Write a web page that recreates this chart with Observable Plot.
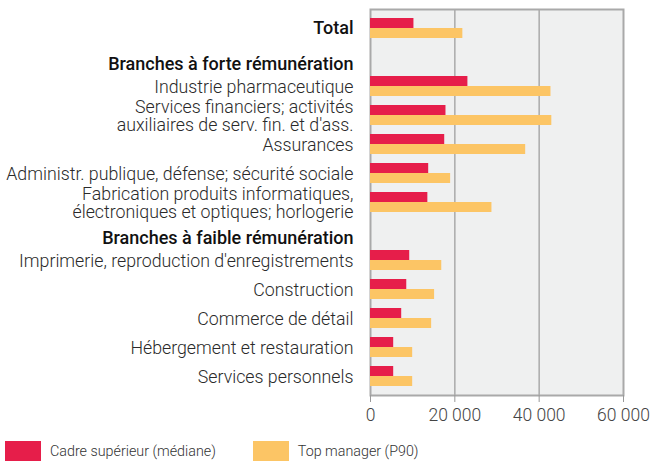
<!DOCTYPE html>
<html>
<head>
<meta charset="utf-8">
<script src="https://cdn.jsdelivr.net/npm/d3@7"></script>
<script src="https://cdn.jsdelivr.net/npm/@observablehq/plot@0.6"></script>
<style>
  body { margin: 0; background: #fff; font-family: Roboto, "Noto Sans", sans-serif; }
  #chart svg { display: block; }
  .legend { display: flex; align-items: center; height: 20px; margin-top: 9px; font-size: 14.3px; color: #333; font-weight: 300; }
  .legend .sw { width: 36px; height: 20px; margin-right: 9px; }
  .legend .item { display: flex; align-items: center; }
</style>
</head>
<body>
<div id="chart"></div>
<script>
const categories = [
  "Total",
  "Branches à forte rémunération",
  "Industrie pharmaceutique",
  "Services financiers; activités\nauxiliaires de serv. fin. et d'ass.",
  "Assurances",
  "Administr. publique, défense; sécurité sociale",
  "Fabrication produits informatiques,\nélectroniques et optiques; horlogerie",
  "Branches à faible rémunération",
  "Imprimerie, reproduction d'enregistrements",
  "Construction",
  "Commerce de détail",
  "Hébergement et restauration",
  "Services personnels"
];
const totalLabel = ["Total"];
const groupLabels = ["Branches à forte rémunération", "Branches à faible rémunération"];
const cadreSuperieur = [10300, null, 23100, 17900, 17600, 13800, 13600, null, 9300, 8600, 7400, 5500, 5500];
const topManager = [21900, null, 42800, 43000, 36800, 19000, 28800, null, 16900, 15200, 14500, 10000, 10000];
const seriesNames = ["Cadre supérieur (médiane)", "Top manager (P90)"];
const seriesColors = ["#e61e4a", "#fcc565"];
const xTicks = [0, 20000, 40000, 60000];

const rows = categories.map((c, i) => ({category: c, cadre: cadreSuperieur[i], top: topManager[i]}));
const fmt = d => d === 0 ? "0" : d3.format(",")(d).replace(/,/g, " ");
const isBold = c => totalLabel.includes(c) || groupLabels.includes(c);

const chart = Plot.plot({
  width: 650,
  height: 432,
  marginLeft: 370,
  marginRight: 27,
  marginTop: 9,
  marginBottom: 37,
  style: {fontFamily: "Roboto, sans-serif", fontSize: "17px", color: "#333", background: "#fff"},
  x: {domain: [0, 60000], ticks: xTicks, tickFormat: fmt, label: null},
  y: {domain: categories, paddingInner: 0.32, paddingOuter: 0.2, axis: null},
  marks: [
    Plot.frame({fill: "#eff0f0", stroke: "#a9a9a9", strokeWidth: 2}),
    Plot.ruleX([20000, 40000], {stroke: "#aaa", strokeWidth: 1.5}),
    Plot.barX(rows.filter(d => d.cadre != null), {x: "cadre", y: "category", fill: seriesColors[0], insetBottom: 10}),
    Plot.barX(rows.filter(d => d.top != null), {x: "top", y: "category", fill: seriesColors[1], insetTop: 10}),
    Plot.text(rows.filter(d => !isBold(d.category)), {
      y: "category", text: "category", frameAnchor: "left", textAnchor: "end", dx: -17, dy: 1,
      fontSize: 17.75, fontWeight: 300, fill: "#2a2a2a", lineHeight: 1.0
    }),
    Plot.text(rows.filter(d => totalLabel.includes(d.category)), {
      y: "category", text: "category", frameAnchor: "left", textAnchor: "end", dx: -17,
      fontSize: 18, fontWeight: 500, fill: "#111"
    }),
    Plot.text(rows.filter(d => groupLabels.includes(d.category)), {
      y: "category", text: "category", frameAnchor: "left", textAnchor: "end", dx: -17, dy: 7,
      fontSize: 18, fontWeight: 500, fill: "#111"
    }),
    Plot.axisX({ticks: xTicks, tickFormat: fmt, tickSize: 7, tickPadding: 6, stroke: "#999", fill: "#444", fontSize: 17.5, fontWeight: 300, label: null})
  ]
});
document.getElementById("chart").appendChild(chart);

const legend = document.createElement("div");
legend.className = "legend";
seriesNames.forEach((name, i) => {
  const item = document.createElement("div");
  item.className = "item";
  item.style.marginLeft = i === 0 ? "5px" : "37px";
  const sw = document.createElement("div");
  sw.className = "sw";
  sw.style.background = seriesColors[i];
  const t = document.createElement("span");
  t.textContent = name;
  item.appendChild(sw);
  item.appendChild(t);
  legend.appendChild(item);
});
document.body.appendChild(legend);
</script>
</body>
</html>
